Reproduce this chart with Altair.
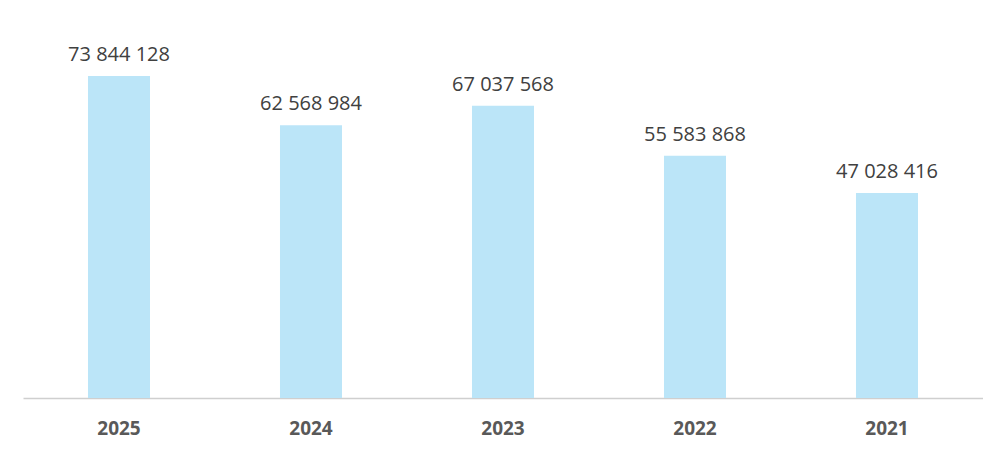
import altair as alt
import pandas as pd

years = ["2025", "2024", "2023", "2022", "2021"]
values = [73844128, 62568984, 67037568, 55583868, 47028416]
labels = ["73 844 128", "62 568 984", "67 037 568", "55 583 868", "47 028 416"]

df = pd.DataFrame({"year": years, "value": values, "label": labels})

x = alt.X("year:N", sort=years, title=None,
          scale=alt.Scale(paddingInner=0.677, paddingOuter=0.3385),
          axis=alt.Axis(labelAngle=0, labelFont="Open Sans", labelFontSize=19,
                        labelFontWeight="bold", labelColor="#595959", labelPadding=21,
                        ticks=False, domainColor="#cfcfcf", domainWidth=1.5, grid=False))
y = alt.Y("value:Q", title=None, scale=alt.Scale(domain=[0, 89450000], nice=False),
          axis=None)

bars = alt.Chart(df).mark_bar(color="#bbe5f8").encode(x=x, y=y)
text = alt.Chart(df).mark_text(dy=-21, font="Open Sans", fontSize=20, color="#404040",
                               baseline="middle").encode(x=x, y=y, text="label:N")

chart = (bars + text).properties(
    width=960, height=390,
    padding={"left": 15, "top": 0, "right": 0, "bottom": 8}
).configure_view(stroke=None)

chart.save("out.html", embed_options={"renderer": "svg", "actions": False})
